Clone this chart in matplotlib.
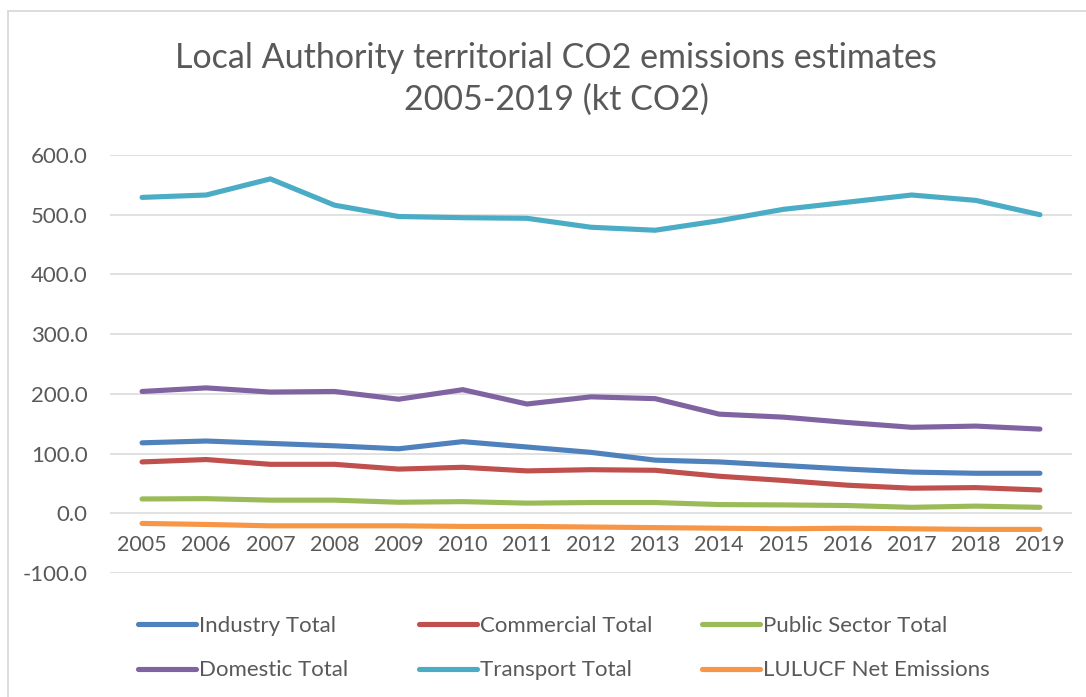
import numpy as np
import matplotlib.pyplot as plt
from matplotlib.patches import Rectangle
from matplotlib.transforms import blended_transform_factory

plt.rcParams['font.family'] = ['Lato', 'DejaVu Sans']

years = [str(y) for y in range(2005, 2020)]
industry = [118, 121, 117, 113, 108, 120, 111, 102, 89, 86, 80, 74, 69, 67, 67]
commercial = [86, 90, 82, 82, 74, 77, 71, 73, 72, 62, 55, 47, 42, 43, 39]
public = [24, 24.5, 22, 22, 18.5, 19.5, 17, 18, 18, 14.6, 14, 13, 10, 12, 10]
domestic = [204, 210, 203, 204, 191, 207, 183, 195, 192, 166, 161, 152, 144, 146, 141]
transport = [529, 533, 560, 516, 497, 495, 494, 479, 474, 490, 509, 521, 533, 524, 500]
lulucf = [-17, -18.7, -21, -21, -21, -22, -22, -23, -24, -25, -26, -25, -26, -27, -27]

names = ['Industry Total', 'Commercial Total', 'Public Sector Total',
         'Domestic Total', 'Transport Total', 'LULUCF Net Emissions']
series = [industry, commercial, public, domestic, transport, lulucf]
colors = ['#4F81BD', '#C0504D', '#9BBB59', '#8064A2', '#4BACC6', '#F79646']
txt = '#595959'

fig = plt.figure(figsize=(10.86, 6.97), dpi=100)
fig.patches.append(Rectangle((8 / 1086, -0.1), 1.2, 1 - 11 / 697 + 0.1,
                             transform=fig.transFigure, fill=False,
                             edgecolor='#D9D9D9', linewidth=1.3))

ax = fig.add_axes([110 / 1086, 1 - 573 / 697, 962 / 1086, 418 / 697])
x = np.arange(len(years))
lines = []
for s, c, n in zip(series, colors, names):
    ln, = ax.plot(x, s, color=c, lw=3.7, solid_capstyle='round',
                  solid_joinstyle='round', label=n, zorder=3)
    lines.append(ln)

ax.set_xlim(-0.5, len(years) - 0.5)
ax.set_ylim(-100, 600)
ax.set_yticks(np.arange(-100, 601, 100))
ax.set_yticklabels([f'{v:.1f}' for v in np.arange(-100, 601, 100)])
ax.grid(axis='y', color='#D9D9D9', lw=1.1, zorder=0)
for sp in ax.spines.values():
    sp.set_visible(False)
ax.tick_params(axis='y', length=0, pad=16, labelsize=16, labelcolor=txt)
ax.set_xticks([])

# category labels sit below the zero line
tr = blended_transform_factory(ax.transData, ax.transData)
for i, yr in enumerate(years):
    ax.text(i, -53, yr, ha='center', va='center', fontsize=15.5, color=txt,
            transform=tr)

fig.text(556 / 1086, 1 - 79 / 697,
         'Local Authority territorial CO2 emissions estimates\n2005-2019 (kt CO2)',
         ha='center', va='center', fontsize=24.5, color=txt, linespacing=1.38)

# legend: three columns at fixed positions
col_x = [138, 419, 702]
for k in range(3):
    leg = fig.legend([lines[k], lines[k + 3]], [names[k], names[k + 3]],
                     loc='upper left',
                     bbox_to_anchor=(col_x[k] / 1086, 1 - 616 / 697),
                     frameon=False, fontsize=16, handlelength=2.6,
                     handletextpad=0.15, labelspacing=1.1, borderpad=0,
                     borderaxespad=0)
    for t in leg.get_texts():
        t.set_color(txt)

fig.savefig('out.png', dpi=100)
